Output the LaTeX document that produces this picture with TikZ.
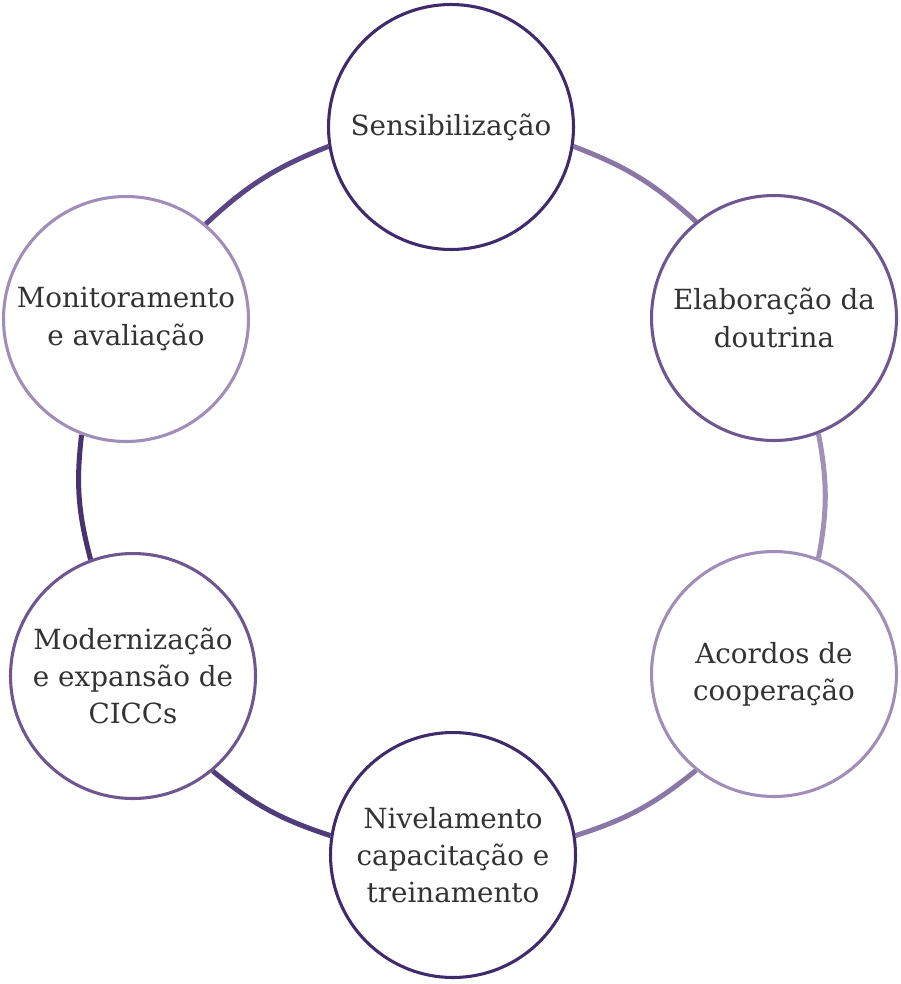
\documentclass[tikz,border=0pt]{standalone}
\usepackage{fontspec}
\setmainfont{DejaVu Serif}
\usepackage{tikz}
\definecolor{stagedark}{HTML}{3F2B6B}
\definecolor{stagemid}{HTML}{6E5791}
\definecolor{stagelight}{HTML}{A08EB8}
\definecolor{ringdeep}{HTML}{48336F}
\definecolor{ringdark}{HTML}{4F3C7A}
\definecolor{ringplum}{HTML}{5A4585}
\definecolor{ringsoft}{HTML}{8B77A6}
\definecolor{ringpale}{HTML}{A190B8}
\definecolor{textgray}{HTML}{333333}
\pgfdeclarelayer{background}
\pgfsetlayers{background,main}

\begin{document}
\begin{tikzpicture}[x=0.02cm, y=-0.02cm,
  stage/.style={circle, draw, line width=1.75pt, fill=white,
    minimum size=4.9cm, inner sep=0pt, align=center,
    text=textgray, font=\fontsize{15.8}{21.2}\selectfont},
  ring/.style={line width=2.85pt}]
  \useasboundingbox (0,0) rectangle (900,984);

  % Stages (pixel coordinates, y downwards)
  \node[stage, draw=stagedark]  (sens) at (451,127) {Sensibilização};
  \node[stage, draw=stagemid]   (elab) at (774,318) {Elaboração da\\doutrina};
  \node[stage, draw=stagelight] (acor) at (774,674) {Acordos de\\cooperação};
  \node[stage, draw=stagedark]  (nive) at (453,855) {Nivelamento\\capacitação e\\treinamento};
  \node[stage, draw=stagemid]   (mode) at (133,676) {Modernização\\e expansão de\\CICCs};
  \node[stage, draw=stagelight] (moni) at (126,319) {Monitoramento\\e avaliação};

  % Ring segments between neighbouring stages (clockwise)
  \begin{pgfonlayer}{background}
    \foreach \a/\b/\t/\c in {sens/elab/90/ringsoft, elab/acor/30/ringpale,
        acor/nive/-30/ringsoft, nive/mode/-90/ringdark,
        mode/moni/210/ringdeep, moni/sens/150/ringplum} {
      \pgfmathsetmacro\s{\t-99.6}
      \pgfmathsetmacro\e{\t+39.6}
      \draw[ring, \c] (\a.\s) to[bend left=10.8] (\b.\e);
    }
  \end{pgfonlayer}

\end{tikzpicture}
\end{document}
